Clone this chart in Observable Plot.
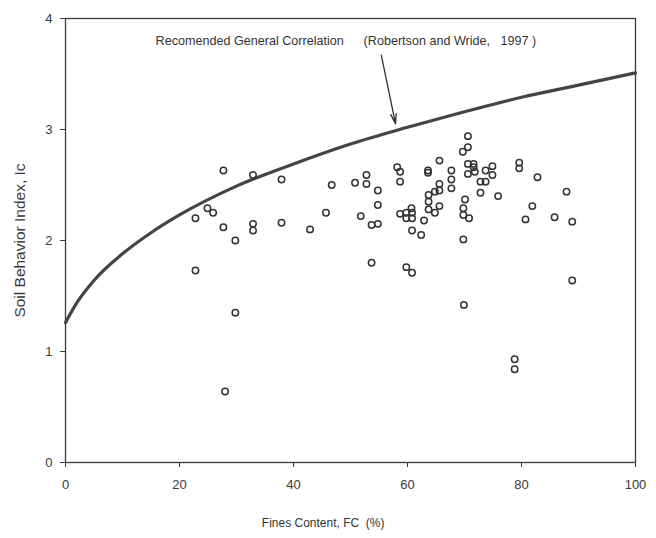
<!DOCTYPE html>
<html>
<head>
<meta charset="utf-8">
<script src="https://cdn.jsdelivr.net/npm/d3@7"></script>
<script src="https://cdn.jsdelivr.net/npm/@observablehq/plot@0.6"></script>
<style>
  html, body { margin: 0; padding: 0; background: #fff; }
  #chart svg { display: block; }
</style>
</head>
<body>
<div id="chart"></div>
<script>
// Measured data points: Fines Content (%) and Soil Behavior Index Ic
const fc = [27.7,32.9,37.9,46.7,24.9,25.9,22.8,45.7,27.7,32.9,32.9,37.9,42.9,29.8,22.8,29.8,28.0,
  70.6,69.7,70.6,65.6,58.2,58.7,63.6,63.6,67.7,67.7,67.7,70.6,71.6,71.6,70.6,71.8,52.8,52.8,50.8,58.7,
  72.8,72.8,73.7,65.6,65.6,64.8,54.8,63.7,63.7,63.7,64.8,65.6,54.8,51.8,53.7,54.8,58.7,59.8,60.7,60.8,
  59.8,60.8,62.9,60.8,62.4,70.1,69.8,69.8,70.8,69.8,53.7,59.8,60.8,73.7,74.9,74.9,75.9,79.6,79.6,82.8,
  87.9,81.9,80.7,85.8,88.9,88.9,69.9,78.8,78.8];
const ic = [2.63,2.59,2.55,2.50,2.29,2.25,2.20,2.25,2.12,2.15,2.09,2.16,2.10,2.00,1.73,1.35,0.64,
  2.94,2.80,2.84,2.72,2.66,2.62,2.63,2.61,2.63,2.55,2.47,2.69,2.69,2.66,2.60,2.62,2.59,2.51,2.52,2.53,
  2.53,2.43,2.53,2.51,2.45,2.44,2.45,2.41,2.35,2.28,2.25,2.31,2.32,2.22,2.14,2.15,2.24,2.25,2.29,2.25,
  2.20,2.20,2.18,2.09,2.05,2.37,2.29,2.23,2.20,2.01,1.80,1.76,1.71,2.63,2.67,2.59,2.40,2.70,2.65,2.57,
  2.44,2.31,2.19,2.21,2.17,1.64,1.42,0.93,0.84];

// Recommended general correlation curve
const curveFC = [0, 2, 5, 10, 15, 20, 30, 40, 50, 60, 70, 80, 90, 100];
const curveIc = [1.26, 1.44, 1.64, 1.88, 2.07, 2.23, 2.49, 2.69, 2.87, 3.02, 3.16, 3.29, 3.40, 3.51];

// Ticks
const xTicks = [0, 20, 40, 60, 80, 100];
const yTicks = [0, 1, 2, 3, 4];

// Titles
const xTitle = "Fines Content, FC  (%)";
const xTitleFC = 45.2;
const yTitle = "Soil Behavior Index, Ic";

// Annotation
const labelTexts = ["Recomended General Correlation", "(Robertson and Wride,   1997 )"];
const labelFC = [15.8, 52.3];
const labelIc = [3.80, 3.80];
const arrowFrom = [55.4, 3.67];
const arrowTo = [57.9, 3.05];

const points = fc.map((x, i) => ({x, y: ic[i]}));
const curve = curveFC.map((x, i) => ({x, y: curveIc[i]}));
const labels = labelTexts.map((t, i) => ({t, x: labelFC[i], y: labelIc[i]}));
const arrows = [{x1: arrowFrom[0], y1: arrowFrom[1], x2: arrowTo[0], y2: arrowTo[1]}];

const font = "'Liberation Sans', Arial, sans-serif";
const ink = "#3a3a3a";

const chart = Plot.plot({
  width: 656,
  height: 538,
  marginLeft: 65,
  marginRight: 21,
  marginTop: 18,
  marginBottom: 76,
  style: {fontFamily: font, fontSize: "13px", color: ink, background: "#fff"},
  x: {domain: [0, 100]},
  y: {domain: [0, 4]},
  marks: [
    Plot.frame({stroke: ink, strokeWidth: 1.3}),
    Plot.axisX({ticks: xTicks, tickSize: 5, tickPadding: 12, fontSize: 13, tickFormat: "d", label: null}),
    Plot.axisY({ticks: yTicks, tickSize: 5, tickPadding: 8, fontSize: 13, tickFormat: "d",
      label: yTitle, labelAnchor: "center", labelArrow: "none", labelOffset: 52}),
    Plot.text([xTitle], {x: [xTitleFC], text: d => d, frameAnchor: "bottom", dy: 64, fontSize: 12, fill: "#333"}),
    Plot.line(curve, {x: "x", y: "y", stroke: "#444", strokeWidth: 3.2, curve: "monotone-x"}),
    Plot.dot(points, {x: "x", y: "y", r: 3.2, stroke: "#333", strokeWidth: 1.5, fill: "none"}),
    Plot.arrow(arrows, {x1: "x1", y1: "y1", x2: "x2", y2: "y2", stroke: "#333", strokeWidth: 1.3, headLength: 12, headAngle: 30}),
    Plot.text(labels, {x: "x", y: "y", text: "t", textAnchor: "start", fontSize: 12.6, fill: "#333"})
  ]
});
// enlarge the y title slightly to match the reference
chart.querySelectorAll("[aria-label='y-axis label'] text").forEach(t => t.setAttribute("font-size", "15.5"));
document.getElementById("chart").appendChild(chart);
</script>
</body>
</html>
